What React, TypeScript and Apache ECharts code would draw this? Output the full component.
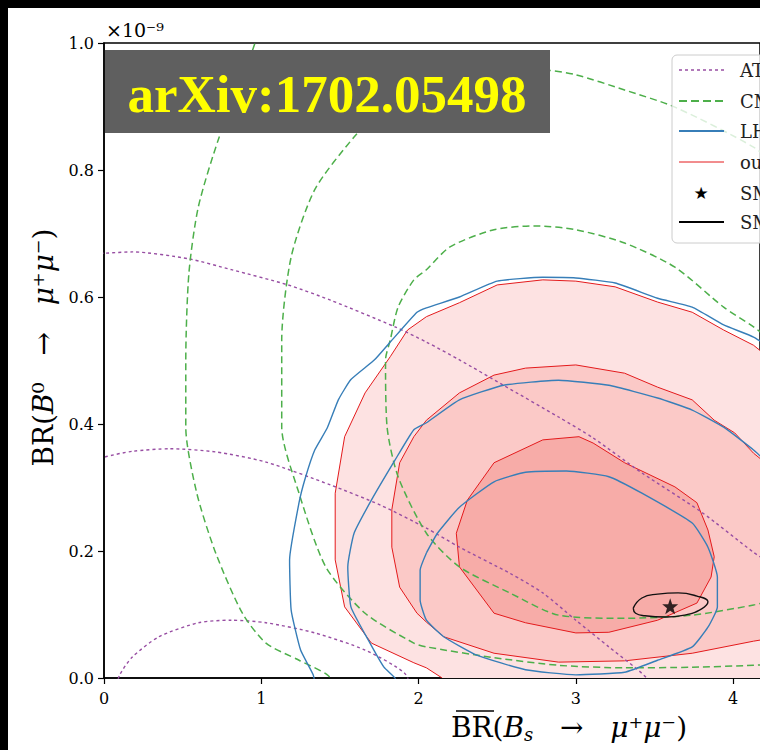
import React, { useEffect, useRef } from "react";
import * as echarts from "echarts";

type Pt = [number, number];

// Axis ticks
const X_TICKS = [0, 1, 2, 3, 4];
const Y_TICKS = [0, 0.2, 0.4, 0.6, 0.8, 1.0];
const X_MAX = 4.171;
const Y_MAX = 1.0;

// Legend entries
const LEGEND_NAMES = ["ATLAS", "CMS", "LHCb", "our fit", "SM", "SM 1σ"];

// ATLAS contours (purple dotted)
const atlasOuter: Pt[] = [
  [-0.1, 0.668], [0.006, 0.669], [0.18, 0.671], [0.54, 0.66], [0.81, 0.643], [1.17, 0.619],
  [1.44, 0.595], [1.85, 0.553], [2.05, 0.529], [2.26, 0.501], [2.54, 0.461], [2.89, 0.411],
  [3.11, 0.378], [3.42, 0.323], [3.8, 0.261], [4.13, 0.198], [4.3, 0.17],
];
const atlasMid: Pt[] = [
  [-0.1, 0.338], [0.006, 0.348], [0.18, 0.357], [0.42, 0.361], [0.71, 0.356], [1.03, 0.34],
  [1.44, 0.304], [1.76, 0.272], [2.05, 0.236], [2.26, 0.206], [2.58, 0.165], [2.79, 0.134],
  [3.0, 0.091], [3.21, 0.049], [3.45, 0.0], [3.5, -0.03],
];
const atlasInner: Pt[] = [
  [0.07, -0.02], [0.1, 0.005], [0.18, 0.033], [0.35, 0.065], [0.6, 0.087], [0.81, 0.091],
  [1.03, 0.087], [1.34, 0.071], [1.66, 0.044], [1.91, 0.008], [1.96, -0.02],
];

// CMS contours (green dashed)
const cmsOuter: Pt[] = [
  [0.99, 1.05], [0.96, 1.0], [0.73, 0.85], [0.6, 0.742], [0.54, 0.638], [0.52, 0.501],
  [0.52, 0.395], [0.59, 0.291], [0.71, 0.197], [0.88, 0.102], [1.03, 0.055], [1.24, 0.028],
  [1.42, 0.005], [1.5, -0.02],
];
const cmsMid: Pt[] = [
  [4.3, 0.8], [4.13, 0.836], [3.63, 0.899], [3.31, 0.926], [3.0, 0.95], [2.81, 0.957],
  [2.43, 0.95], [2.05, 0.923], [1.74, 0.887], [1.59, 0.852], [1.34, 0.769], [1.19, 0.663],
  [1.13, 0.532], [1.13, 0.395], [1.24, 0.291], [1.41, 0.175], [1.66, 0.102], [1.97, 0.055],
  [2.05, 0.049], [2.48, 0.032], [2.89, 0.02], [3.31, 0.016], [3.74, 0.017], [4.13, 0.02],
  [4.3, 0.022],
];
const cmsInner: Pt[] = [
  [4.3, 0.52], [4.13, 0.553], [3.94, 0.584], [3.63, 0.647], [3.31, 0.685], [3.0, 0.706],
  [2.75, 0.712], [2.48, 0.706], [2.2, 0.679], [2.05, 0.643], [1.97, 0.627], [1.87, 0.584],
  [1.82, 0.532], [1.79, 0.501], [1.8, 0.395], [1.87, 0.317], [2.05, 0.228], [2.26, 0.175],
  [2.58, 0.134], [2.89, 0.099], [3.31, 0.094], [3.74, 0.099], [4.13, 0.115], [4.3, 0.125],
];

// LHCb contours (blue solid)
const lhcbOuter: Pt[] = [
  [4.3, 0.51], [4.13, 0.537], [3.94, 0.556], [3.74, 0.584], [3.52, 0.598], [3.25, 0.622],
  [3.0, 0.63], [2.79, 0.631], [2.5, 0.625], [2.26, 0.6], [2.05, 0.583], [1.99, 0.576],
  [1.82, 0.529], [1.72, 0.501], [1.57, 0.47], [1.49, 0.438], [1.42, 0.394], [1.34, 0.359],
  [1.28, 0.315], [1.24, 0.276], [1.18, 0.186], [1.19, 0.107], [1.25, 0.044], [1.33, 0.005],
  [1.35, -0.02],
];
const lhcbMid: Pt[] = [
  [4.3, 0.32], [4.13, 0.359], [3.94, 0.395], [3.74, 0.422], [3.52, 0.441], [3.21, 0.461],
  [2.89, 0.469], [2.54, 0.461], [2.26, 0.438], [2.05, 0.402], [1.97, 0.391], [1.85, 0.343],
  [1.7, 0.28], [1.59, 0.228], [1.55, 0.175], [1.57, 0.112], [1.68, 0.06], [1.78, 0.017],
  [1.85, 0.0], [1.87, -0.02],
];
const lhcbInner: Pt[] = [
  [2.05, 0.197], [2.12, 0.228], [2.26, 0.269], [2.48, 0.309], [2.68, 0.324], [2.94, 0.326],
  [3.21, 0.317], [3.42, 0.291], [3.74, 0.244], [3.84, 0.206], [3.9, 0.159], [3.9, 0.112],
  [3.84, 0.08], [3.74, 0.049], [3.52, 0.028], [3.31, 0.009], [3.0, 0.005], [2.68, 0.013],
  [2.37, 0.036], [2.16, 0.065], [2.05, 0.091], [2.01, 0.123], [2.01, 0.17], [2.05, 0.197],
];

// Our result (red filled regions)
const oursOuter: Pt[] = [
  [4.3, 0.49], [4.13, 0.524], [3.94, 0.548], [3.74, 0.576], [3.52, 0.592], [3.25, 0.616],
  [3.0, 0.625], [2.79, 0.627], [2.5, 0.619], [2.26, 0.591], [2.05, 0.569], [1.93, 0.548],
  [1.82, 0.506], [1.66, 0.449], [1.53, 0.38], [1.47, 0.291], [1.47, 0.186], [1.53, 0.112],
  [1.7, 0.055], [1.97, 0.024], [2.05, 0.016], [2.15, 0.0], [2.2, -0.05], [4.3, -0.05],
];
const oursMid: Pt[] = [
  [4.3, 0.32], [4.13, 0.354], [4.01, 0.386], [3.88, 0.406], [3.74, 0.438], [3.52, 0.458],
  [3.31, 0.48], [3.0, 0.493], [2.68, 0.488], [2.48, 0.477], [2.26, 0.449], [2.05, 0.406],
  [1.97, 0.38], [1.88, 0.339], [1.83, 0.265], [1.83, 0.206], [1.88, 0.143], [1.99, 0.102],
  [2.05, 0.088], [2.16, 0.065], [2.48, 0.039], [2.89, 0.025], [3.31, 0.027], [3.74, 0.039],
  [4.13, 0.058], [4.3, 0.065],
];
const oursInner: Pt[] = [
  [3.02, 0.38], [2.79, 0.375], [2.48, 0.339], [2.31, 0.28], [2.24, 0.228], [2.26, 0.175],
  [2.48, 0.102], [2.68, 0.087], [3.0, 0.071], [3.21, 0.072], [3.52, 0.091], [3.77, 0.118],
  [3.86, 0.159], [3.88, 0.191], [3.84, 0.233], [3.77, 0.276], [3.63, 0.301], [3.31, 0.339],
  [3.11, 0.37],
];

// SM prediction
const smEllipse: Pt[] = [
  [3.365, 0.11], [3.42, 0.126], [3.52, 0.132], [3.65, 0.134], [3.77, 0.129], [3.84, 0.12],
  [3.8, 0.109], [3.69, 0.099], [3.57, 0.096], [3.44, 0.098], [3.38, 0.102], [3.365, 0.11],
];
const smPoint: Pt[] = [[3.6, 0.113]];

const PURPLE = "#984ea3";
const GREEN = "#4daf4a";
const BLUE = "#377eb8";
const RED = "#e41a1c";
const FILLS = ["#fde2e2", "#fbc9c7", "#f7aca8"];
const SERIF = "DejaVu Serif";
const STAR =
  "path://M0,-10 L2.35,-3.24 L9.51,-3.09 L3.8,1.24 L5.88,8.09 L0,4 L-5.88,8.09 L-3.8,1.24 L-9.51,-3.09 L-2.35,-3.24 Z";

function polySeries(pts: Pt[], fill: string, z: number) {
  return {
    type: "custom",
    name: "our fit",
    coordinateSystem: "cartesian2d",
    clip: true,
    silent: true,
    z,
    data: [pts[Math.floor(pts.length / 2)]],
    encode: { x: 0, y: 1 },
    renderItem: (_params: any, api: any) => ({
      type: "polygon",
      shape: { points: pts.map((p) => api.coord(p)) },
      style: { fill, stroke: RED, lineWidth: 1 },
    }),
  };
}

function lineSeries(name: string, pts: Pt[], color: string, width: number, dash: any, z: number, smooth = 0.25) {
  return {
    type: "line",
    name,
    data: pts,
    symbol: "none",
    showSymbol: false,
    smooth,
    silent: true,
    clip: true,
    z,
    lineStyle: { color, width, type: dash },
  };
}

const TITLE_RICH = {
  n: { fontFamily: SERIF, fontSize: 28, color: "#000" },
  i: { fontFamily: SERIF, fontStyle: "italic", fontSize: 28, color: "#000" },
  s: { fontFamily: SERIF, fontStyle: "italic", fontSize: 18, color: "#000", padding: [13, 0, 0, 0] },
};

export default function App() {
  const ref = useRef<HTMLDivElement>(null);
  useEffect(() => {
    if (!ref.current) return;
    const chart = echarts.init(ref.current, undefined, { renderer: "svg" });
    const legendRows = [70, 101, 131, 162, 193, 222];
    const legendGraphics: any[] = [
      {
        type: "rect",
        z: 100,
        shape: { x: 672, y: 55, width: 130, height: 188, r: 5 },
        style: { fill: "rgba(255,255,255,0.8)", stroke: "#cccccc", lineWidth: 1 },
      },
      { type: "line", z: 101, shape: { x1: 679, y1: legendRows[0], x2: 724, y2: legendRows[0] }, style: { stroke: PURPLE, lineWidth: 1.5, lineDash: [3, 3] } },
      { type: "line", z: 101, shape: { x1: 679, y1: legendRows[1], x2: 724, y2: legendRows[1] }, style: { stroke: GREEN, lineWidth: 2, lineDash: [8, 4] } },
      { type: "line", z: 101, shape: { x1: 679, y1: legendRows[2], x2: 724, y2: legendRows[2] }, style: { stroke: BLUE, lineWidth: 2 } },
      { type: "line", z: 101, shape: { x1: 679, y1: legendRows[3], x2: 724, y2: legendRows[3] }, style: { stroke: RED, lineWidth: 1 } },
      { type: "text", z: 101, x: 701, y: legendRows[4], style: { text: "★", fill: "#000", font: "17px 'DejaVu Sans'", textAlign: "center", textVerticalAlign: "middle" } },
      { type: "line", z: 101, shape: { x1: 679, y1: legendRows[5], x2: 724, y2: legendRows[5] }, style: { stroke: "#000", lineWidth: 2 } },
    ];
    LEGEND_NAMES.forEach((n, i) => {
      legendGraphics.push({
        type: "text",
        z: 101,
        x: 740,
        y: legendRows[i],
        style: { text: n, fill: "#222", font: `18px '${SERIF}'`, textAlign: "left", textVerticalAlign: "middle" },
      });
    });

    const option: any = {
      animation: false,
      backgroundColor: "#ffffff",
      grid: {
        left: 104,
        right: -6,
        top: 43,
        bottom: 72,
        show: true,
        borderColor: "#000",
        borderWidth: 1.5,
        backgroundColor: "transparent",
      },
      xAxis: {
        type: "value",
        min: 0,
        max: X_MAX,
        interval: 1,
        axisLine: { show: true, onZero: false, lineStyle: { color: "#000", width: 1.5 } },
        axisTick: { show: true, length: 6, lineStyle: { color: "#000", width: 1.2 } },
        splitLine: { show: false },
        axisLabel: {
          color: "#000",
          fontFamily: SERIF,
          fontSize: 16,
          margin: 12,
          showMaxLabel: false,
          formatter: (v: number) => (X_TICKS.indexOf(v) >= 0 ? String(v) : ""),
        },
        name: "{n|BR(}{i|B}{s|s}{n|   →   }{i|μ}{n|⁺}{i|μ}{n|⁻)}",
        nameLocation: "middle",
        nameGap: 34,
        nameTextStyle: {
          padding: [0, 0, 0, 274],
          rich: TITLE_RICH,
        },
      },
      yAxis: {
        type: "value",
        min: 0,
        max: Y_MAX,
        interval: 0.2,
        axisLine: { show: true, onZero: false, lineStyle: { color: "#000", width: 1.5 } },
        axisTick: { show: true, length: 6, lineStyle: { color: "#000", width: 1.2 } },
        splitLine: { show: false },
        axisLabel: {
          color: "#000",
          fontFamily: SERIF,
          fontSize: 16,
          margin: 10,
          formatter: (v: number) => {
            const r = Math.round(v * 10) / 10;
            return Y_TICKS.some((t) => Math.abs(t - r) < 1e-9) ? r.toFixed(1) : "";
          },
        },
        name: "{n|BR(}{i|B}{n|⁰   →   }{i|μ}{n|⁺}{i|μ}{n|⁻)}",
        nameLocation: "middle",
        nameGap: 47,
        nameRotate: 90,
        nameTextStyle: {
          padding: [0, 0, 0, 26],
          rich: TITLE_RICH,
        },
      },
      series: [
        polySeries(oursOuter, FILLS[0], 1),
        polySeries(oursMid, FILLS[1], 1),
        polySeries(oursInner, FILLS[2], 1),
        lineSeries("ATLAS", atlasOuter, PURPLE, 1.4, [3, 3], 3),
        lineSeries("ATLAS", atlasMid, PURPLE, 1.4, [3, 3], 3),
        lineSeries("ATLAS", atlasInner, PURPLE, 1.4, [3, 3], 3),
        lineSeries("CMS", cmsOuter, GREEN, 1.5, [7, 4], 3),
        lineSeries("CMS", cmsMid, GREEN, 1.5, [7, 4], 3),
        lineSeries("CMS", cmsInner, GREEN, 1.5, [7, 4], 3),
        lineSeries("LHCb", lhcbOuter, BLUE, 1.4, "solid", 4, 0.15),
        lineSeries("LHCb", lhcbMid, BLUE, 1.4, "solid", 4, 0.15),
        lineSeries("LHCb", lhcbInner, BLUE, 1.4, "solid", 4, 0.15),
        lineSeries("SM 1σ", smEllipse, "#111", 1.4, "solid", 5, 0.5),
        {
          type: "scatter",
          name: "SM",
          data: smPoint,
          symbol: STAR,
          symbolSize: 16,
          silent: true,
          z: 6,
          itemStyle: { color: "#000" },
        },
      ],
      graphic: {
        elements: [
          // outer black frame of the screenshot
          { type: "rect", z: 200, shape: { x: 0, y: 0, width: 760, height: 8 }, style: { fill: "#000" } },
          { type: "rect", z: 200, shape: { x: 0, y: 0, width: 8, height: 750 }, style: { fill: "#000" } },
          // banner
          { type: "rect", z: 100, shape: { x: 105, y: 50, width: 445, height: 83 }, style: { fill: "#5f5f5f" } },
          {
            type: "text",
            z: 101,
            x: 327,
            y: 94,
            style: {
              text: "arXiv:1702.05498",
              fill: "#ffff00",
              font: "bold 53px 'Liberation Serif'",
              textAlign: "center",
              textVerticalAlign: "middle",
            },
          },
          // scale factor
          {
            type: "text",
            z: 101,
            x: 106,
            y: 30,
            style: { text: "×10⁻⁹", fill: "#000", font: `19px '${SERIF}'`, textAlign: "left", textVerticalAlign: "middle" },
          },
          // overline on BR of x-axis title
          { type: "line", z: 101, shape: { x1: 456, y1: 711, x2: 494, y2: 711 }, style: { stroke: "#000", lineWidth: 1.3 } },
          ...legendGraphics,
        ],
      },
    };
    chart.setOption(option);
    return () => chart.dispose();
  }, []);
  return <div ref={ref} style={{ position: "absolute", left: 0, top: 0, width: 760, height: 750 }} />;
}
